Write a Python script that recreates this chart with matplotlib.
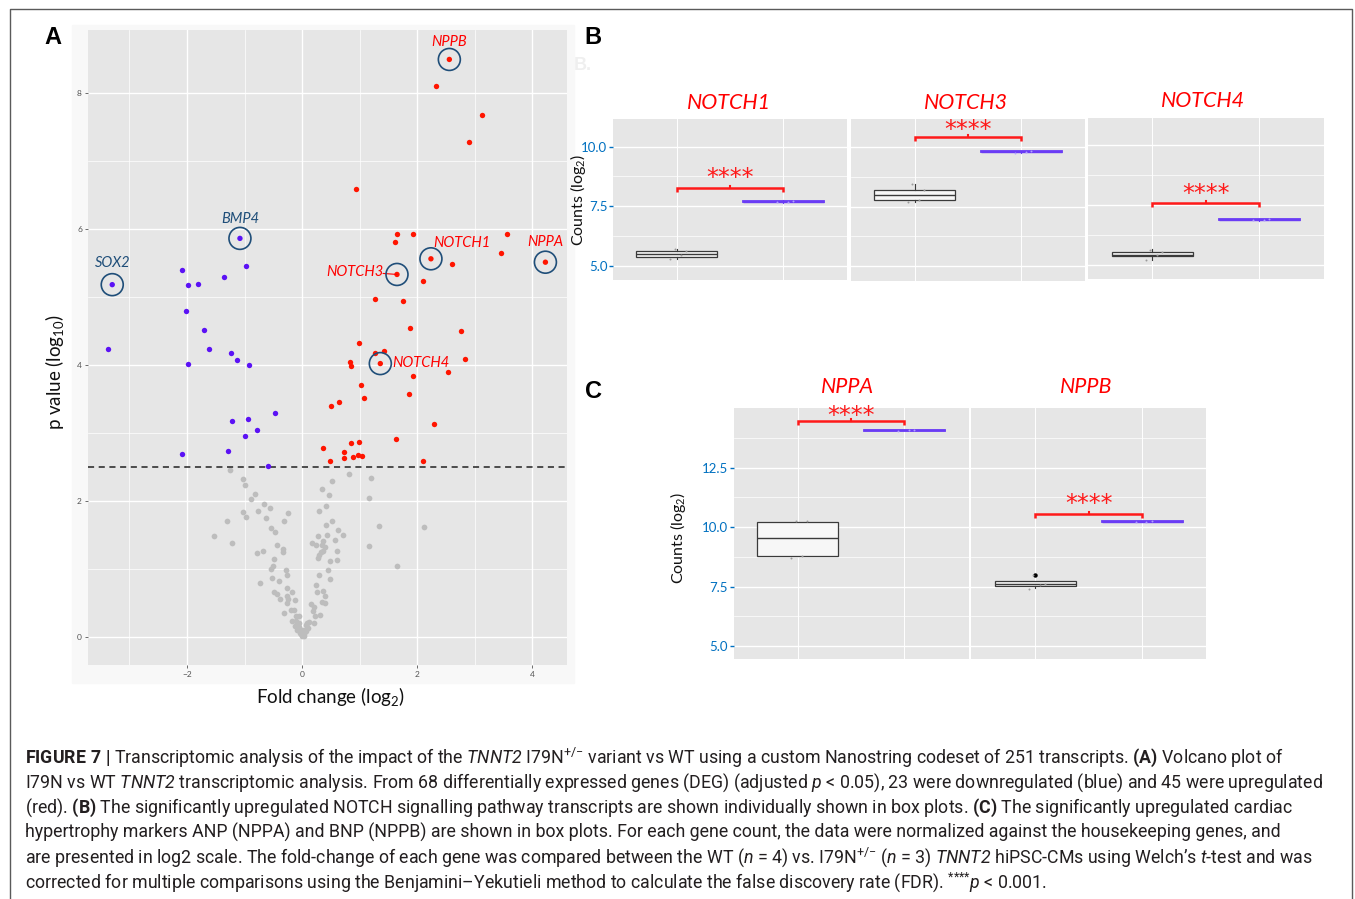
import numpy as np
import matplotlib
matplotlib.use('Agg')
import matplotlib.pyplot as plt
from matplotlib.lines import Line2D
from matplotlib.patches import Rectangle

plt.rcParams['font.family'] = ['Lato', 'DejaVu Sans']
plt.rcParams['mathtext.fontset'] = 'custom'
plt.rcParams['mathtext.rm'] = 'Roboto'
plt.rcParams['mathtext.it'] = 'Roboto:italic'
plt.rcParams['mathtext.sf'] = 'Roboto:italic'
plt.rcParams['mathtext.bf'] = 'Roboto:bold'

# ---- volcano data (fold change log2, p value -log10) ----
ns_fc = [-1.25, -1.02, -1.00, -0.81, -0.88, -0.66, -0.56, -1.03, -0.76, -0.97, -0.24, -1.30, -0.63, -0.32,
         -0.54, -0.47, -1.53, -1.21, -0.43, -0.33, -0.33, -0.68, -0.78, -0.48, -0.51, -0.54, -0.28, -0.26,
         -0.52, -0.40, -0.74, -0.26, -0.17, -0.49, -0.43, -0.26, -0.24, -0.39, -0.13, -0.27, -0.20, -0.14,
         -0.32, -0.10, -0.06, -0.17, -0.10, -0.05, -0.13, -0.05, -0.09, -0.01, -0.03, 0.01, 0.03, 0.06,
         0.81, 1.20, 0.52, 0.34, 0.47, 1.16, 0.42, 0.30, 0.52, 0.42, 1.33, 0.63, 0.71, 0.28, 0.43, 0.58,
         0.37, 0.17, 0.25, 0.34, 0.39, 1.17, 0.61, 0.37, 0.29, 0.33, 0.28, 0.61, 0.49, 1.65, 0.45, 0.30,
         0.49, 0.24, 0.37, 0.26, 0.39, 0.35, 0.39, 0.16, 0.21, 0.19, 0.23, 0.32, 0.09, 0.12, 0.20, 0.07,
         0.11, 0.05, 0.02, 2.12, 0.00, -0.02, 0.04]
ns_p = [2.46, 2.32, 2.24, 2.11, 2.03, 1.95, 1.90, 1.84, 1.86, 1.76, 1.82, 1.71, 1.75, 1.70,
        1.61, 1.55, 1.49, 1.38, 1.36, 1.30, 1.25, 1.26, 1.23, 1.15, 1.04, 1.00, 0.98, 0.92,
        0.87, 0.83, 0.79, 0.72, 0.67, 0.67, 0.63, 0.61, 0.56, 0.56, 0.55, 0.50, 0.40, 0.40,
        0.35, 0.31, 0.31, 0.23, 0.23, 0.20, 0.16, 0.15, 0.11, 0.10, 0.06, 0.03, 0.05, 0.09,
        2.40, 2.34, 2.29, 2.17, 2.09, 2.04, 1.93, 1.86, 1.71, 1.65, 1.63, 1.57, 1.50, 1.48, 1.50, 1.42,
        1.41, 1.39, 1.36, 1.35, 1.32, 1.34, 1.27, 1.26, 1.21, 1.25, 1.16, 1.13, 1.12, 1.05, 0.99, 0.91,
        0.86, 0.77, 0.68, 0.67, 0.60, 0.52, 0.50, 0.49, 0.44, 0.38, 0.31, 0.32, 0.21, 0.22, 0.20, 0.18,
        0.14, 0.11, 0.07, 1.62, 0.01, 0.04, 0.02]

up_fc = [2.33, 3.12, 2.90, 0.94, 1.65, 1.93, 3.56, 1.62, 3.45, 2.60, 2.11, 1.27, 1.76, 1.88, 2.77, 0.99,
         1.26, 1.43, 0.84, 0.85, 2.83, 2.53, 1.92, 1.03, 1.86, 1.07, 0.64, 0.50, 2.30, 1.64, 0.99, 0.85,
         0.37, 0.73, 0.98, 1.04, 0.89, 0.73, 0.49, 2.10]
up_p = [8.10, 7.67, 7.28, 6.58, 5.92, 5.93, 5.92, 5.81, 5.64, 5.48, 5.24, 4.97, 4.94, 4.55, 4.50, 4.32,
        4.17, 4.20, 4.04, 3.98, 4.08, 3.90, 3.84, 3.70, 3.57, 3.52, 3.45, 3.39, 3.13, 2.91, 2.87, 2.86,
        2.78, 2.72, 2.67, 2.66, 2.65, 2.63, 2.59, 2.59]

down_fc = [-3.37, -2.08, -0.97, -1.98, -1.81, -1.35, -2.01, -1.70, -1.62, -1.24, -1.13, -1.98, -0.92,
           -0.47, -1.22, -0.94, -0.78, -1.00, -1.28, -2.08, -0.59]
down_p = [4.23, 5.39, 5.45, 5.18, 5.19, 5.29, 4.79, 4.51, 4.23, 4.18, 4.07, 4.01, 4.00,
          3.30, 3.18, 3.20, 3.05, 2.96, 2.73, 2.69, 2.52]

lab_genes = ['NPPB', 'NOTCH1', 'NPPA', 'NOTCH3', 'NOTCH4', 'BMP4', 'SOX2']
lab_fc = [2.56, 2.24, 4.23, 1.65, 1.36, -1.08, -3.30]
lab_p = [8.49, 5.56, 5.51, 5.33, 4.02, 5.86, 5.18]
lab_up = [True, True, True, True, True, False, False]

p_cut = 2.5

# ---- box plot data: whislo, q1, median, q3, whishi ----
notch_genes = ['NOTCH1', 'NOTCH3', 'NOTCH4']
notch_wt = [[5.30, 5.36, 5.48, 5.62, 5.68], [7.70, 7.76, 7.97, 8.18, 8.46], [5.22, 5.36, 5.43, 5.52, 5.65]]
notch_mut = [[7.65, 7.67, 7.69, 7.72, 7.74], [9.74, 9.76, 9.78, 9.81, 9.83], [6.85, 6.86, 6.88, 6.90, 6.92]]
notch_wt_pts = [[5.30, 5.44, 5.60, 5.70], [7.70, 7.76, 8.20, 8.46], [5.22, 5.40, 5.52, 5.62]]
notch_mut_pts = [[7.66, 7.69, 7.73], [9.74, 9.79, 9.82], [6.86, 6.88, 6.92]]
notch_bracket = [8.28, 10.41, 7.58]
notch_star = [8.68, 10.70, 7.96]

np_genes = ['NPPA', 'NPPB']
np_wt = [[8.80, 8.80, 9.54, 10.23, 10.23], [7.45, 7.52, 7.60, 7.73, 7.73]]
np_mut = [[14.04, 14.05, 14.07, 14.09, 14.10], [10.20, 10.21, 10.22, 10.24, 10.25]]
np_wt_out = [[], [7.97]]
np_wt_pts = [[8.70, 8.78, 10.24, 10.28], [7.40, 7.56, 7.62, 7.98]]
np_mut_pts = [[14.05, 14.08, 14.10], [10.21, 10.22, 10.24]]
np_bracket = [14.46, 10.54]
np_star = [14.69, 10.98]

W, H = 1355, 899
fig = plt.figure(figsize=(W / 100, H / 100), dpi=100)


def box(x0, y0, x1, y1):
    return [x0 / W, 1 - y1 / H, (x1 - x0) / W, (y1 - y0) / H]


def fx(px):
    return px / W


def fy(py):
    return 1 - py / H


# outer frame (left, top, right)
fig.add_artist(Line2D([fx(9.5), fx(9.5), fx(1351.5), fx(1351.5)], [0, fy(9), fy(9), 0],
                      transform=fig.transFigure, color='#5a5a5a', lw=1))
fig.add_artist(Rectangle((fx(72), fy(683)), (574 - 72) / W, (683 - 25) / H,
                         transform=fig.transFigure, color='#f8f8f8', zorder=0))

RED = '#ff1500'
BLUE = '#5b12f5'
LBLUE = '#1f4e79'

# ---------------- A: volcano ----------------
axA = fig.add_axes(box(87.5, 29.5, 566.7, 665))
axA.set_facecolor('#e6e6e6')
axA.set_xlim(-3.73, 4.60)
axA.set_ylim(-0.41, 8.93)
axA.set_xticks([-2, 0, 2, 4])
axA.set_yticks([0, 2, 4, 6, 8])
axA.set_xticks([-3, -1, 1, 3], minor=True)
axA.set_yticks([1, 3, 5, 7], minor=True)
axA.grid(which='major', color='white', lw=1.0)
axA.grid(which='minor', color='white', lw=0.5)
axA.set_axisbelow(True)
for s in axA.spines.values():
    s.set_visible(False)
axA.tick_params(which='major', length=2.5, width=0.6, color='#555555', labelsize=6,
                labelcolor='#555555', pad=1.5)
axA.tick_params(which='minor', length=0)

axA.scatter(ns_fc, ns_p, s=17, color='#bdbdbd', lw=0, zorder=2)
axA.scatter(up_fc, up_p, s=15, color=RED, lw=0, zorder=3)
axA.scatter(down_fc, down_p, s=15, color=BLUE, lw=0, zorder=3)
lab_col = [RED if u else BLUE for u in lab_up]
axA.scatter(lab_fc, lab_p, s=15, color=lab_col, lw=0, zorder=3)
axA.scatter(lab_fc, lab_p, s=250, facecolor='none', edgecolor=LBLUE, lw=1.2, zorder=4)
axA.axhline(p_cut, color='#222222', lw=1.1, ls=(0, (4, 3)), zorder=2.5)

lab_off = {'NPPB': (0, 17, 'center'), 'NOTCH1': (31, 16, 'center'), 'NPPA': (0, 20, 'center'),
           'NOTCH3': (-13, 2, 'right'), 'NOTCH4': (12, 1, 'left'), 'BMP4': (0, 19, 'center'),
           'SOX2': (0, 22, 'center')}
for g, x, y, u in zip(lab_genes, lab_fc, lab_p, lab_up):
    dx, dy, ha = lab_off[g]
    axA.annotate(g, (x, y), xytext=(dx, dy), textcoords='offset pixels', ha=ha, va='center',
                 fontsize=10.5, style='italic', color='#ff0000' if u else LBLUE, zorder=5)
    if g == 'NOTCH3':
        axA.annotate('', (x, y), xytext=(dx - 1, 1), textcoords='offset pixels',
                     arrowprops=dict(arrowstyle='-', color='#ff0000', lw=0.8, shrinkA=0, shrinkB=11))

fig.text(fx(55), fy(372), 'p value (log$_{\\mathregular{10}}$)', rotation=90, ha='center', va='center',
         fontsize=13.5, color='#111111')
fig.text(fx(330), fy(697), 'Fold change (log$_{\\mathregular{2}}$)', ha='center', va='center',
         fontsize=13.5, color='#111111')


# ---------------- B / C: box plots ----------------
def stats(v, fl=()):
    return dict(whislo=v[0], q1=v[1], med=v[2], q3=v[3], whishi=v[4], fliers=list(fl))


def facet(pos, ylim, wt, mut, wt_pts, mut_pts, br, st, major, minor, first, out=()):
    ax = fig.add_axes(box(*pos))
    ax.set_facecolor('#e6e6e6')
    ax.set_xlim(0.4, 2.6)
    ax.set_ylim(*ylim)
    ax.set_xticks([1, 2])
    ax.set_yticks(major)
    ax.set_yticks(minor, minor=True)
    ax.grid(which='major', axis='y', color='white', lw=1.0)
    ax.grid(which='minor', axis='y', color='white', lw=0.5)
    ax.grid(which='major', axis='x', color='white', lw=0.6)
    ax.set_axisbelow(True)
    for s in ax.spines.values():
        s.set_visible(False)
    ax.tick_params(axis='x', length=0, labelbottom=False)
    ax.tick_params(which='minor', length=0)
    if first:
        ax.set_yticklabels(['%.1f' % v for v in major])
        ax.tick_params(axis='y', length=3, width=1, color='#0070c0', labelcolor='#0070c0',
                       labelsize=9.5, pad=1)
    else:
        ax.tick_params(axis='y', length=0, labelleft=False)
    ax.bxp([stats(wt, out)], positions=[1], widths=0.76, patch_artist=True, showcaps=False,
           boxprops=dict(facecolor='#f7f7f7', edgecolor='#3a3a3a', lw=0.9),
           medianprops=dict(color='#3a3a3a', lw=1.0), whiskerprops=dict(color='#3a3a3a', lw=0.8),
           flierprops=dict(marker='o', markersize=2.2, markerfacecolor='black', markeredgecolor='black'))
    ax.bxp([stats(mut)], positions=[2], widths=0.76, patch_artist=True, showcaps=False,
           boxprops=dict(facecolor='#8060ff', edgecolor='#6a3cf5', lw=1.3),
           medianprops=dict(color='#6a3cf5', lw=1.0), whiskerprops=dict(color='#6a3cf5', lw=0.8))
    jit = [-0.06, 0.04, 0.09, -0.02]
    ax.scatter([1 + jit[i] for i in range(len(wt_pts))], wt_pts, s=2, color='#9a9a9a', lw=0, zorder=4)
    ax.scatter([2 + jit[i] for i in range(len(mut_pts))], mut_pts, s=2, color='#b0a0ff', lw=0, zorder=4)
    ax.plot([1, 1, 2, 2], [br - 0.17, br, br, br - 0.17], color='#ff1a1a', lw=1.8,
            solid_joinstyle='miter', solid_capstyle='butt', zorder=5)
    ax.plot([1.5, 1.5], [br, br + 0.08], color='#ff1a1a', lw=1.5, zorder=5)
    ax.text(1.5, st, '****', ha='center', va='center', color='#ff1a1a', fontsize=17,
            family='DejaVu Sans', zorder=6)
    return ax


posB = [(612.9, 119, 847.2, 279.7), (850.6, 119, 1085.3, 280.5), (1088.3, 117.5, 1323.5, 279)]
titleB = [(729, 103), (966, 103), (1203, 101)]
for i, g in enumerate(notch_genes):
    facet(posB[i], (4.41, 11.16), notch_wt[i], notch_mut[i], notch_wt_pts[i], notch_mut_pts[i],
          notch_bracket[i], notch_star[i], [5, 7.5, 10], [6.25, 8.75], i == 0)
    fig.text(fx(titleB[i][0]), fy(titleB[i][1]), g, ha='center', va='center', color='#ff0000',
             style='italic', fontsize=15.5)

posC = [(733.7, 408.3, 968.5, 658.7), (971.4, 408.3, 1206.2, 658.7)]
titleC = [(848, 387), (1086, 387)]
for i, g in enumerate(np_genes):
    facet(posC[i], (4.47, 15.0), np_wt[i], np_mut[i], np_wt_pts[i], np_mut_pts[i],
          np_bracket[i], np_star[i], [5, 7.5, 10, 12.5], [6.25, 8.75, 11.25, 13.75], i == 0,
          out=np_wt_out[i])
    fig.text(fx(titleC[i][0]), fy(titleC[i][1]), g, ha='center', va='center', color='#ff0000',
             style='italic', fontsize=15.5)

fig.text(fx(578), fy(200), 'Counts (log$_{\\mathregular{2}}$)', rotation=90, ha='center', va='center',
         fontsize=11.5, color='#111111')
fig.text(fx(678), fy(538), 'Counts (log$_{\\mathregular{2}}$)', rotation=90, ha='center', va='center',
         fontsize=11.5, color='#111111')

# panel letters
for L, x, y in [('A', 53, 38), ('B', 593, 38), ('C', 593, 391)]:
    fig.text(fx(x), fy(y), L, ha='center', va='center', fontsize=17, weight='bold',
             family='Liberation Sans', color='black')
fig.text(fx(583), fy(66), 'B.', ha='center', va='center', fontsize=13, weight='bold',
         family='Liberation Sans', color='#efefef')

# ---------------- caption ----------------
caption = [
    r'$\mathbf{FIGURE\ 7\ |}$ Transcriptomic analysis of the impact of the $\mathsf{TNNT2}$ I79N$^{{+}/{-}}$'
    r' variant vs WT using a custom Nanostring codeset of 251 transcripts. $\mathbf{(A)}$ Volcano plot of',
    r'I79N vs WT $\mathsf{TNNT2}$ transcriptomic analysis. From 68 differentially expressed genes (DEG)'
    r' (adjusted $\mathit{p}$ < 0.05), 23 were downregulated (blue) and 45 were upregulated',
    r'(red). $\mathbf{(B)}$ The significantly upregulated NOTCH signalling pathway transcripts are shown'
    r' individually shown in box plots. $\mathbf{(C)}$ The significantly upregulated cardiac',
    r'hypertrophy markers ANP (NPPA) and BNP (NPPB) are shown in box plots. For each gene count, the data'
    r' were normalized against the housekeeping genes, and',
    r'are presented in log2 scale. The fold-change of each gene was compared between the WT ($\mathit{n}$ = 4)'
    r' vs. I79N$^{{+}/{-}}$ ($\mathit{n}$ = 3) $\mathsf{TNNT2}$ hiPSC-CMs using Welch’s $\mathit{t}$-test and was',
    r'corrected for multiple comparisons using the Benjamini–Yekutieli method to calculate the false'
    r' discovery rate (FDR). $^{{*}{*}{*}{*}}\mathit{p}$ < 0.001.',
]
cap_y = [763, 788, 813, 838, 863, 888]
rend = fig.canvas.get_renderer()
texts = []
for line, y in zip(caption, cap_y):
    texts.append(fig.text(fx(25), fy(y), line, ha='left', va='baseline', fontsize=12,
                          family=['Roboto', 'DejaVu Sans'], color='#231f20'))
w2 = texts[1].get_window_extent(rend).width
size = 12 * (1323 - 25) / w2
for t in texts:
    t.set_fontsize(size)

fig.savefig('out.png', dpi=100, facecolor='white')
